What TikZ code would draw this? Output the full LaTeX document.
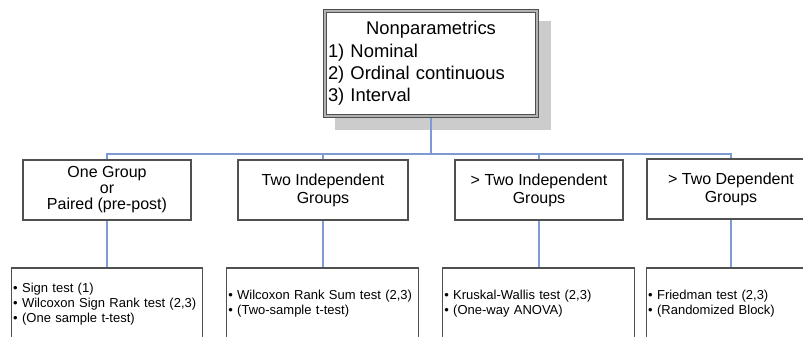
\documentclass[tikz,border=0pt]{standalone}
\usepackage{fontspec}
\setmainfont{Liberation Sans}
\pgfdeclarelayer{bg}
\pgfdeclarelayer{mid}
\pgfsetlayers{bg,mid,main}
\definecolor{connblue}{RGB}{125,155,210}
\definecolor{framegray}{RGB}{80,80,80}
\definecolor{shadowgray}{RGB}{204,204,204}
\tikzset{
  topbox/.style={draw=framegray, line width=1pt, double=black!30, double distance=1.5pt,
    fill=white, minimum width=212pt, minimum height=105pt, inner xsep=3pt, inner ysep=0pt,
    outer sep=0pt, text width=206pt, align=left, font=\fontsize{18.4}{22.2}\selectfont},
  groupbox/.style={draw=framegray, line width=1.2pt, fill=white, minimum width=168pt,
    minimum height=60pt, inner sep=0pt, outer sep=0pt, align=center,
    font=\fontsize{16}{18}\selectfont},
  testbox/.style={draw=framegray, line width=1.2pt, fill=white, minimum width=192pt,
    minimum height=72pt, inner xsep=1.5pt, inner ysep=0pt, outer sep=0pt,
    text width=189pt, align=left, font=\fontsize{13}{15}\selectfont},
  conn/.style={draw=connblue, line width=1.2pt},
}
\begin{document}
\begin{tikzpicture}[x=1pt, y=-1pt]
\useasboundingbox (0,0) rectangle (803,337);
\clip (0,0) rectangle (803,337);
\begin{pgfonlayer}{bg}
  \fill[white] (0,0) rectangle (803,337);
\end{pgfonlayer}

\node[topbox] (top) at (431,63.5)
  {\makebox[206pt]{Nonparametrics}\\1) Nominal\\2) Ordinal continuous\\3) Interval};

\node[groupbox, font=\fontsize{16}{16}\selectfont] (l2a) at (107,190) {One Group\\or\\Paired (pre-post)};
\node[groupbox, minimum width=170pt] (l2b) at (323,190) {Two Independent\\Groups};
\node[groupbox] (l2c) at (539,190) {> Two Independent\\Groups};
\node[groupbox] (l2d) at (731,189) {> Two Dependent\\Groups};

\node[testbox, minimum width=191pt, text width=188pt] (l3a) at (107.2,304)
  {• Sign test (1)\\• Wilcoxon Sign Rank test (2,3)\\• (One sample t-test)};
\node[testbox] (l3b) at (322.8,304)
  {• Wilcoxon Rank Sum test (2,3)\\• (Two-sample t-test)};
\node[testbox] (l3c) at (538.8,304)
  {• Kruskal-Wallis test (2,3)\\• (One-way ANOVA)};
\node[testbox] (l3d) at (742.7,304)
  {• Friedman test (2,3)\\• (Randomized Block)};

\begin{pgfonlayer}{bg}
  \fill[shadowgray] ([shift={(10,10)}]top.north west) rectangle ([shift={(14,14)}]top.south east);
\end{pgfonlayer}

\begin{pgfonlayer}{mid}
  \coordinate (bus) at (0,154);
  \draw[conn] (top.south) -- (top.south |- bus);
  \draw[conn] (l2a.north) -- (l2a.north |- bus) -- (l2d.north |- bus) -- (l2d.north);
  \draw[conn] (l2b.north) -- (l2b.north |- bus);
  \draw[conn] (l2c.north) -- (l2c.north |- bus);
  \draw[conn] (l2a.south) -- (l2a.south |- l3a.north);
  \draw[conn] (l2b.south) -- (l2b.south |- l3b.north);
  \draw[conn] (l2c.south) -- (l2c.south |- l3c.north);
  \draw[conn] (l2d.south) -- (l2d.south |- l3d.north);
\end{pgfonlayer}
\end{tikzpicture}
\end{document}
